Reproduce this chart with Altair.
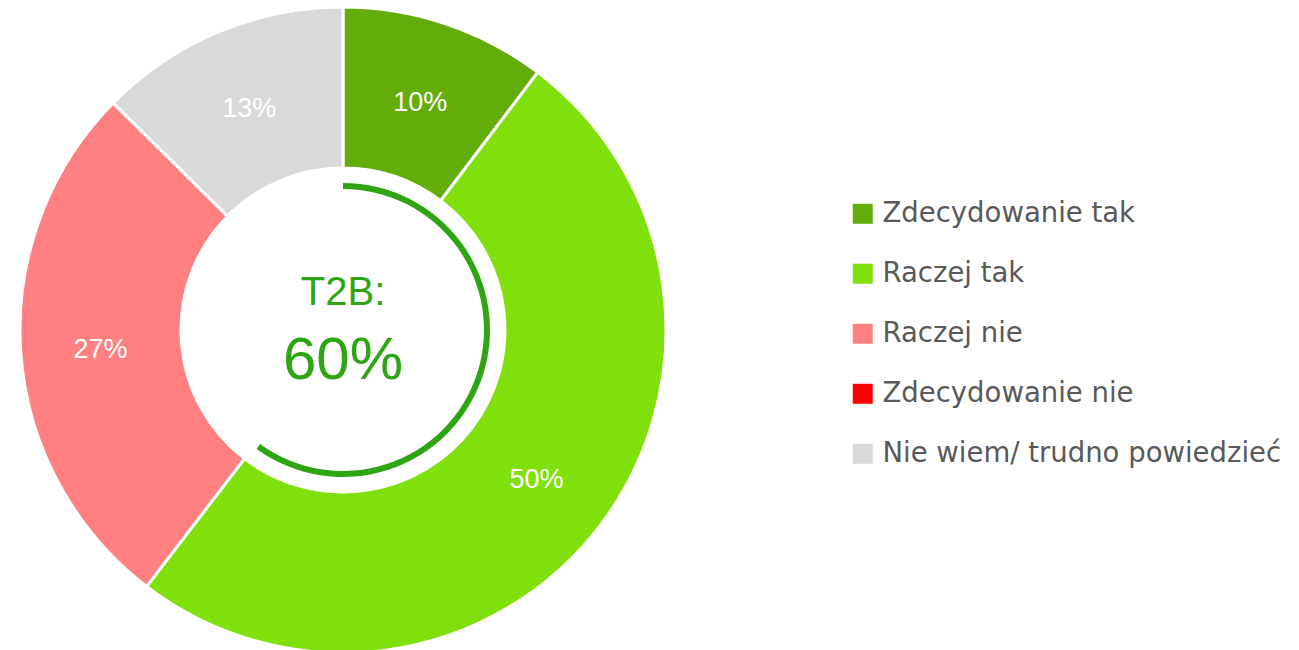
import altair as alt
import pandas as pd

categories = ["Zdecydowanie tak", "Raczej tak", "Raczej nie", "Zdecydowanie nie", "Nie wiem/ trudno powiedzieć"]
values = [10.3, 50.1, 27.0, 0, 12.6]
value_labels = ["10%", "50%", "27%", "", "13%"]
colors = ["#62AD0A", "#7FE00C", "#FF8080", "#FF0000", "#D9D9D9"]
t2b_value = 60
t2b_title = "T2B:"
t2b_label = "60%"

df = pd.DataFrame({"cat": categories, "val": values, "order": list(range(len(categories))),
                   "label": value_labels})

CX, CY = 343, 330

base = alt.Chart(df).encode(
    theta=alt.Theta("val:Q", stack=True, scale=alt.Scale(domain=[0, 100])),
    order=alt.Order("order:Q"),
)

donut = base.mark_arc(radius=323, radius2=162, stroke="white", strokeWidth=3).encode(
    x=alt.value(CX), y=alt.value(CY),
    color=alt.Color("cat:N", sort=categories,
                    scale=alt.Scale(domain=categories, range=colors),
                    legend=alt.Legend(title=None, orient="none", legendX=849, legendY=200,
                                      symbolType="square", symbolSize=400, symbolStrokeWidth=0,
                                      labelFontSize=27.5, labelFont="DejaVu Sans", labelColor="#595959",
                                      labelOffset=6, rowPadding=31, padding=0, labelLimit=500)),
)

labels = base.mark_text(radius=243, font="Liberation Sans", fontSize=27, color="white", dy=3).encode(
    x=alt.value(CX), y=alt.value(CY),
    text="label:N",
).transform_filter("datum.val > 0")

t2b_df = pd.DataFrame({"v": [t2b_value], "t": [t2b_title], "l": [t2b_label]})
t2b_arc = alt.Chart(t2b_df).mark_arc(radius=147, radius2=141, color="#2EA614").encode(
    x=alt.value(CX), y=alt.value(CY),
    theta=alt.Theta("v:Q", stack=True, scale=alt.Scale(domain=[0, 100])),
)
t2b_t1 = alt.Chart(t2b_df).mark_text(font="Liberation Sans", fontSize=40, color="#2EA614").encode(
    x=alt.value(CX), y=alt.value(293), text="t:N")
t2b_t2 = alt.Chart(t2b_df).mark_text(font="Liberation Sans", fontSize=60, color="#2EA614").encode(
    x=alt.value(CX), y=alt.value(361), text="l:N")

chart = alt.layer(donut, labels, t2b_arc, t2b_t1, t2b_t2).properties(
    width=1299, height=650, padding=0, autosize=alt.AutoSizeParams(type="none")
).configure_view(stroke=None)

chart.save("out.html", embed_options={"renderer": "svg", "actions": False})
